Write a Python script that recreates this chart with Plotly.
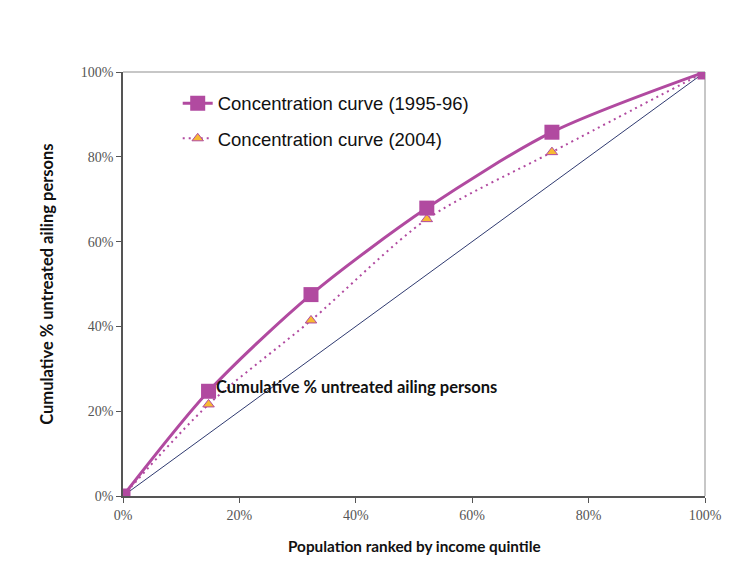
import plotly.graph_objects as go

# Data
population = [0, 14.7, 32.3, 52.2, 73.7, 100]
curve_1995 = [0, 24.7, 47.5, 67.9, 85.8, 100]
curve_2004 = [0, 21.6, 41.4, 65.3, 81.1, 100]
equality_x = [0, 100]
equality_y = [0, 100]
tick_vals = [0, 20, 40, 60, 80, 100]
tick_text = ["0%", "20%", "40%", "60%", "80%", "100%"]

magenta = "#B14AA0"

fig = go.Figure()
fig.add_trace(go.Scatter(
    x=equality_x, y=equality_y, mode="lines",
    line=dict(color="#2F3A70", width=1), showlegend=False, hoverinfo="skip"))
fig.add_trace(go.Scatter(
    x=population, y=curve_2004, mode="lines+markers",
    name="Concentration curve (2004)", legendgroup="b", legendrank=2,
    line=dict(color=magenta, width=2, dash="2px,4px", shape="spline", smoothing=0.8),
    marker=dict(symbol="triangle-up", size=10, color="#F7BA32",
                line=dict(color=magenta, width=1))))
fig.add_trace(go.Scatter(
    x=population, y=curve_1995, mode="lines+markers",
    name="Concentration curve (1995-96)", legendgroup="a", legendrank=1,
    line=dict(color=magenta, width=3, shape="spline", smoothing=0.8),
    marker=dict(symbol="square", size=15, color=magenta)))

fig.add_annotation(x=15.6, y=25.6, xref="x", yref="y", xanchor="left", yanchor="middle",
                   text="<b>Cumulative % untreated ailing persons</b>", showarrow=False,
                   font=dict(family="Lato", size=16.5, color="#111"))
# axis titles
fig.add_annotation(x=0.5, y=-0.118, xref="x domain", yref="y domain",
                   xanchor="center", yanchor="middle", showarrow=False,
                   text="<b>Population ranked by income quintile</b>",
                   font=dict(family="Lato", size=15.3, color="#111"))
fig.add_annotation(x=-0.131, y=0.5, xref="x domain", yref="y domain",
                   xanchor="center", yanchor="middle", showarrow=False, textangle=-90,
                   text="<b>Cumulative % untreated ailing persons</b>",
                   font=dict(family="Lato", size=16.5, color="#111"))

# top and right light borders
fig.add_shape(type="line", xref="x domain", yref="y domain", x0=0, x1=1, y0=1, y1=1,
              line=dict(color="#B5B5B5", width=1.5), layer="below")
fig.add_shape(type="line", xref="x domain", yref="y domain", x0=1, x1=1, y0=0, y1=1,
              line=dict(color="#B5B5B5", width=1.5), layer="below")

tickfont = dict(family="Liberation Serif", size=14, color="#555")
fig.update_xaxes(range=[0, 100], tickvals=tick_vals, ticktext=tick_text, showgrid=False,
                 zeroline=False, showline=True, linecolor="#555", linewidth=1.5,
                 ticks="outside", ticklen=5, tickcolor="#555", tickfont=tickfont,
                 automargin=False)
fig.update_yaxes(range=[0, 100], tickvals=tick_vals, ticktext=tick_text, showgrid=False,
                 zeroline=False, showline=True, linecolor="#555", linewidth=1.5,
                 ticks="outside", ticklen=5, tickcolor="#555", tickfont=tickfont,
                 automargin=False)

fig.update_layout(
    width=735, height=572,
    margin=dict(l=115, r=38, t=64, b=84, autoexpand=False),
    plot_bgcolor="white", paper_bgcolor="white",
    showlegend=True,
    legend=dict(x=0.094, y=0.97, xanchor="left", yanchor="top",
                bgcolor="rgba(0,0,0,0)", traceorder="grouped", tracegroupgap=8,
                font=dict(family="Liberation Sans", size=18.5, color="#111")),
)

fig.write_html("out.html")
